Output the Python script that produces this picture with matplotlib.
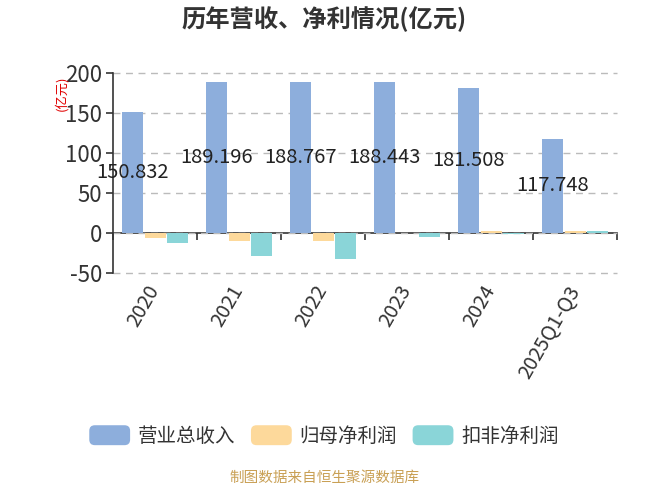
import matplotlib
matplotlib.use("Agg")
import matplotlib.pyplot as plt
from matplotlib.patches import FancyBboxPatch
from matplotlib.legend_handler import HandlerPatch

plt.rcParams['font.family'] = ['Noto Sans CJK SC', 'DejaVu Sans']
plt.rcParams['axes.unicode_minus'] = False

categories = ["2020", "2021", "2022", "2023", "2024", "2025Q1-Q3"]
revenue = [150.832, 189.196, 188.767, 188.443, 181.508, 117.748]
net_profit = [-6.0, -9.5, -10.3, -0.5, 2.1, 2.4]
net_profit_deducted = [-12.0, -29.0, -32.5, -5.3, -1.0, 2.4]
series_names = ["营业总收入", "归母净利润", "扣非净利润"]
colors = ["#8DAEDC", "#FDD99B", "#8AD5D8"]
yticks = [-50, 0, 50, 100, 150, 200]

fig = plt.figure(figsize=(6.5, 4.88), dpi=100)
ax = fig.add_axes([113/650, 1-273/488, (617-113)/650, 200/488])

x = list(range(len(categories)))
w = 0.25
off = 0.27
bars = []
for k, (vals, c) in enumerate(zip([revenue, net_profit, net_profit_deducted], colors)):
    xs = [i + (k - 1) * off for i in x]
    b = ax.bar(xs, vals, width=w, color=c, label=series_names[k], zorder=3)
    bars.append(b)

ax.bar_label(bars[0], labels=[f"{v:.3f}" for v in revenue], label_type='center',
             fontsize=14.5, color='#222222', zorder=5)

ax.set_xlim(-0.5, len(categories) - 0.5)
ax.set_ylim(-50, 200)
ax.set_yticks(yticks)
ax.set_yticklabels([str(t) for t in yticks], fontsize=16, color='#333333')
ax.yaxis.grid(True, linestyle=(0, (5, 4)), color='#bbbbbb', linewidth=1, zorder=0)
for gl in ax.get_ygridlines():
    gl.set_clip_on(False)
ax.tick_params(axis='y', length=5, width=1.2, color='#333333', pad=3)

for s in ['top', 'right', 'bottom']:
    ax.spines[s].set_visible(False)
ax.spines['left'].set_color('#333333')
ax.spines['left'].set_linewidth(1.2)

ax.set_xticks(x)
ax.set_xticklabels(categories, rotation=60, ha='right', va='center',
                   rotation_mode='anchor', fontsize=14.5, color='#333333')
ax.tick_params(axis='x', length=0, pad=10)

sec = ax.secondary_xaxis(50/250)
sec.set_xticks([i - 0.5 for i in range(len(categories) + 1)])
sec.set_xticklabels([])
sec.tick_params(axis='x', direction='out', length=5, width=1.2, color='#333333')
sec.spines['bottom'].set_color('#333333')
sec.spines['bottom'].set_linewidth(1.2)

fig.text(0.498, 1-19/488, "历年营收、净利情况(亿元)", ha='center', va='center',
         fontsize=17.5, fontweight='bold', color='#333333')
fig.text(61/650, 1-93/488, "(亿元)", ha='center', va='center', rotation=90,
         fontsize=9.5, color='#e00000')


class RoundHandler(HandlerPatch):
    def create_artists(self, legend, orig_handle, xdescent, ydescent, width, height, fontsize, trans):
        p = FancyBboxPatch((-xdescent, -ydescent), width, height,
                           boxstyle="round,pad=0,rounding_size=4",
                           facecolor=orig_handle.patches[0].get_facecolor(),
                           edgecolor='none', transform=trans)
        return [p]


leg = fig.legend(handles=bars, labels=series_names, loc='center',
                 bbox_to_anchor=(324/650, 1-436/488), ncol=3, frameon=False,
                 fontsize=14, handlelength=2.1, handleheight=1.2,
                 handletextpad=0.4, columnspacing=0.8,
                 handler_map={type(bars[0]): RoundHandler()})
for t in leg.get_texts():
    t.set_color('#333333')

fig.text(325/650, 1-478/488, "制图数据来自恒生聚源数据库", ha='center', va='center',
         fontsize=10.5, color='#C9A055')

fig.savefig("out.png", dpi=100)
